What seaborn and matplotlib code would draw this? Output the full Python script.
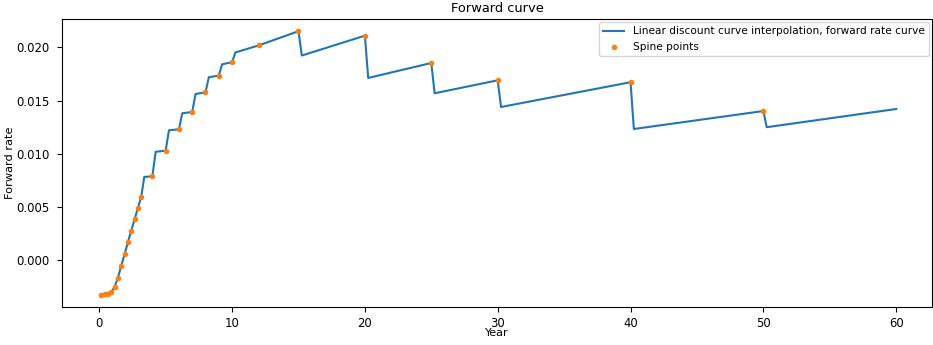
import matplotlib
matplotlib.use("Agg")
import matplotlib.pyplot as plt
import seaborn as sns
import pandas as pd

# Spine points of the curve (year, forward rate)
spine_years = [0.16, 0.41, 0.66, 0.91, 1.16, 1.41, 1.66, 1.91, 2.16, 2.41, 2.66, 2.91, 3.16,
               4.0, 5.0, 6.0, 7.0, 8.0, 9.0, 10.0, 12.0, 15.0, 20.0, 25.0, 30.0, 40.0, 50.0]
spine_rates = [-0.00329, -0.00323, -0.00315, -0.00301, -0.00251, -0.00165, -0.00052, 0.00055,
               0.00169, 0.00276, 0.00383, 0.00489, 0.00596,
               0.00788, 0.01029, 0.01230, 0.01393, 0.01578, 0.01735, 0.01861,
               0.02019, 0.02153, 0.02111, 0.01854, 0.01691, 0.01673, 0.01402]

# Forward rate curve from linear discount factor interpolation
curve_years = [0.16, 0.41, 0.66, 0.91, 1.16, 1.41, 1.66, 1.91, 2.16, 2.41, 2.66, 2.91, 3.16,
               3.39, 4.0, 4.25, 5.0, 5.25, 6.0, 6.25, 7.0, 7.25, 8.0, 8.25, 9.0, 9.25, 10.0,
               10.25, 12.0, 15.0, 15.25, 20.0, 20.25, 25.0, 25.25, 30.0, 30.25, 40.0, 40.25,
               50.0, 50.25, 60.0]
curve_rates = [-0.00329, -0.00323, -0.00315, -0.00301, -0.00251, -0.00165, -0.00052, 0.00055,
               0.00169, 0.00276, 0.00383, 0.00489, 0.00596,
               0.00782, 0.00788, 0.01019, 0.01029, 0.01221, 0.01230, 0.01381, 0.01393,
               0.01562, 0.01578, 0.01720, 0.01735, 0.01842, 0.01861,
               0.01953, 0.02019, 0.02153, 0.01924, 0.02111, 0.01713, 0.01854, 0.01569,
               0.01691, 0.01440, 0.01673, 0.01233, 0.01402, 0.01250, 0.01421]

curve = pd.DataFrame({"Year": curve_years, "Forward rate": curve_rates})
spine = pd.DataFrame({"Year": spine_years, "Forward rate": spine_rates})

fig = plt.figure(figsize=(9.33, 3.45), dpi=100)
ax = fig.add_axes([0.0665, 0.110, 0.9325, 0.835])

sns.lineplot(data=curve, x="Year", y="Forward rate", ax=ax, color="#1f77b4", linewidth=1.5,
             label="Linear discount curve interpolation, forward rate curve", sort=False)
sns.scatterplot(data=spine, x="Year", y="Forward rate", ax=ax, color="#ff7f0e", s=16,
                linewidth=0, label="Spine points", zorder=3)

ax.set_xticks([0, 10, 20, 30, 40, 50, 60])
ax.set_yticks([0.000, 0.005, 0.010, 0.015, 0.020])
ax.set_yticklabels(["0.000", "0.005", "0.010", "0.015", "0.020"])
ax.set_xlim(-2.8, 62.7)
ax.set_ylim(-0.00442, 0.02268)
ax.tick_params(labelsize=8.4, length=3.5, width=0.8)
ax.tick_params(axis="y", pad=5.5)
ax.set_xlabel("Year", fontsize=8, labelpad=-1)
ax.set_ylabel("Forward rate", fontsize=8.2)
ax.yaxis.set_label_coords(-0.054, 0.5)
ax.set_title("Forward curve", fontsize=9.4, pad=5)
for sp in ax.spines.values():
    sp.set_linewidth(0.8)

leg = ax.legend(loc="upper right", fontsize=7.6, framealpha=0.8, edgecolor="#cccccc",
                borderaxespad=0.3)

fig.savefig("out.png", dpi=100)
